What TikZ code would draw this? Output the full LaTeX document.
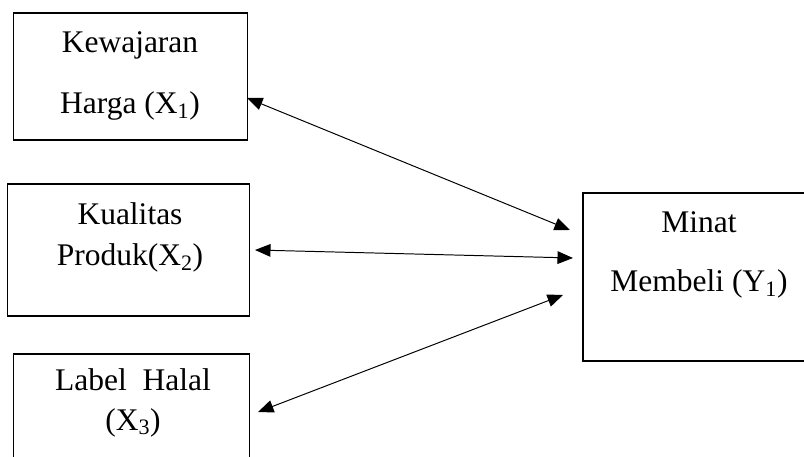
\documentclass[tikz,border=0pt]{standalone}
\usepackage{fontspec}
\setmainfont{Liberation Serif}
\usetikzlibrary{arrows.meta}
\begin{document}
\begin{tikzpicture}[x=0.025cm,y=-0.025cm,
    kotak/.style={draw,line width=0.75pt,inner sep=0pt,outer sep=0pt},
    teks/.style={align=center,inner sep=0pt,font=\fontsize{22.4}{27}\selectfont},
    panah/.style={line width=0.7pt,{Triangle[length=11pt,width=9pt]}-{Triangle[length=11pt,width=9pt]}}]
                \clip (0,0) rectangle (804,457);
                \fill[white] (0,0) rectangle (804,457);
                \node[kotak,minimum width=5.825cm,minimum height=3.175cm] (harga) at (130.5,76.5) {};
                \node[kotak,minimum width=6.025cm,minimum height=3.3cm] (kualitas) at (128.5,250) {};
                \node[kotak,minimum width=5.875cm,minimum height=3.25cm] (halal) at (131.5,419) {};
                \node[kotak,minimum width=5.8cm,minimum height=4.2cm] (minat) at (699,277) {};
                \node[teks] (tharga) at (130,76) {Kewajaran\\[17pt]Harga (X\textsubscript{1})};
                \node[teks] (tkualitas) at (130,237.5) {Kualitas\\[2pt]Produk(X\textsubscript{2})};
                \node[teks] (thalal) at (133,403) {Label\ \ Halal\\[1pt](X\textsubscript{3})};
                \node[teks] (tminat) at (699,255) {Minat\\[15.5pt]Membeli (Y\textsubscript{1})};
                \draw[panah] ([shift={(0,21.5)}]harga.east)--([shift={(-13,-47)}]minat.west);
                \draw[panah] ([shift={(6,0)}]kualitas.east)--([shift={(-10,-19)}]minat.west);
                \draw[panah] ([shift={(9,-7)}]halal.east)--([shift={(-20,18)}]minat.west);
            \end{tikzpicture}
\end{document}
